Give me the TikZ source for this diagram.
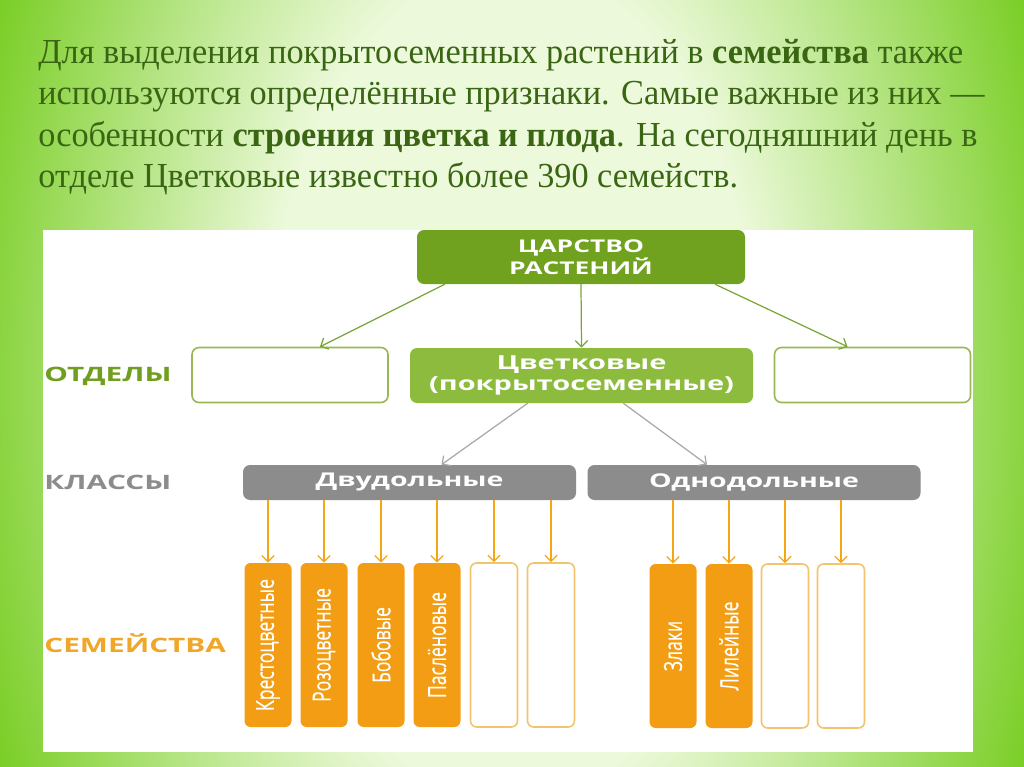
\documentclass[tikz,border=0pt]{standalone}
\usepackage{graphicx}
\usepackage{fontspec}
\setmainfont{Liberation Serif}
\newfontfamily\diagfont{Open Sans}
\newfontfamily\famfont[FakeBold=0.4]{Open Sans}
\usetikzlibrary{arrows.meta,calc}

\definecolor{bgedge}{RGB}{122,206,38}
\definecolor{bgmid}{RGB}{236,249,218}
\definecolor{paratext}{RGB}{58,102,20}
\definecolor{kinggreen}{RGB}{112,162,32}
\definecolor{tsvetgreen}{RGB}{141,187,62}
\definecolor{divline}{RGB}{152,184,84}
\definecolor{greenarrow}{RGB}{122,166,52}
\definecolor{classgray}{RGB}{140,140,140}
\definecolor{grayarrow}{RGB}{168,168,168}
\definecolor{famorange}{RGB}{243,157,20}
\definecolor{famline}{RGB}{242,196,110}
\definecolor{otdgreen}{RGB}{112,158,32}
\definecolor{semorange}{RGB}{240,166,40}

\pgfdeclareradialshading{slidebg}{\pgfpoint{0bp}{0bp}}{color(0bp)=(bgmid); color(11bp)=(bgmid); color(25bp)=(bgedge); color(50bp)=(bgedge)}

\newcommand\pxu{0.02cm}
\newcommand\wide[2][1.5]{\scalebox{#1}[1]{#2}}
\newcommand\tall[2][1.42]{\scalebox{1}[#1]{#2}}
\newcommand\narrow[1]{\scalebox{0.975}[1]{#1}}

\begin{document}
\begin{tikzpicture}[x=0.02cm, y=-0.02cm, line join=round, line cap=round,
  >={Straight Barb[length=3.5pt,width=7pt]},
  para/.style={anchor=base west, inner sep=0pt, text=paratext, font=\fontsize{20}{24}\selectfont},
  lbl/.style={anchor=west, inner sep=0pt, font=\diagfont\bfseries\fontsize{11.3}{13}\selectfont},
  box/.style={rounded corners=4pt, inner sep=0pt, align=center, text=white},
  kingdom/.style={box, fill=kinggreen, minimum width=328*\pxu, minimum height=54*\pxu, font=\diagfont\bfseries\fontsize{10}{11.5}\selectfont},
  division/.style={box, draw=divline, line width=0.9pt, fill=white, minimum width=196*\pxu, minimum height=55*\pxu},
  tsvet/.style={box, fill=tsvetgreen, minimum width=343*\pxu, minimum height=55*\pxu, font=\diagfont\bfseries\fontsize{11}{11.5}\selectfont},
  klass/.style={box, fill=classgray, minimum width=333*\pxu, minimum height=35*\pxu, font=\diagfont\bfseries\fontsize{10.8}{12}\selectfont},
  fam/.style={box, rounded corners=3.5pt, fill=famorange, minimum width=47*\pxu, minimum height=164*\pxu, font=\famfont\fontsize{10}{11}\selectfont},
  famempty/.style={fam, fill=white, draw=famline, line width=0.9pt},
  garrow/.style={->, greenarrow, line width=0.7pt},
  grarrow/.style={->, grayarrow, line width=0.7pt},
  oarrow/.style={->, famorange!90!yellow, line width=0.7pt}]

% slide background
\useasboundingbox (0,0) rectangle (1024,767);
\clip (0,0) rectangle (1024,767);
\shade[shading=slidebg] (512,383) ellipse (560 and 950);
\fill[white] (43,230) rectangle (973,752);

% text above the scheme
\node[para] (l1) at (38,64) {\narrow{Для выделения покрытосеменных растений в \textbf{семейства} также}};
\node[para] (l2) at (38,105) {\narrow{используются определённые признаки. Самые важные из них —}};
\node[para] (l3) at (38,146) {\narrow{особенности \textbf{строения цветка и плода}. На сегодняшний день в}};
\node[para] (l4) at (38,187) {\narrow{отделе Цветковые известно более 390 семейств.}};

% row labels
\node[lbl, text=otdgreen] (lotd) at (44,376) {\wide{ОТДЕЛЫ}};
\node[lbl, text=classgray] (lkl) at (44,482) {\wide{КЛАССЫ}};
\node[lbl, text=semorange] (lsem) at (44,643) {\wide{СЕМЕЙСТВА}};

% kingdom and divisions
\node[kingdom] (king) at (581,257) {\wide{ЦАРСТВО}\\\wide{РАСТЕНИЙ}};
\node[division] (otdl) at (290,375) {};
\node[tsvet] (tsv) at (581.5,375.5) {\wide{Цветковые}\\\wide{(покрытосеменные)}};
\node[division] (otdr) at (872.5,375) {};

% classes
\node[klass] (dvu) at (409.5,482.5) {\wide{Двудольные}};
\node[klass] (odno) at (754,482.5) {\wide{Однодольные}};

% families
\foreach \x/\t [count=\i] in {268/Крестоцветные,324/Розоцветные,381/Бобовые,437/Паслёновые}
  \node[fam] (d\i) at (\x,645) {\rotatebox{90}{\tall{\t}}};
\foreach \x [count=\i from 5] in {494,551}
  \node[famempty] (d\i) at (\x,645) {};
\foreach \x/\t [count=\i] in {673/Злаки,729/Лилейные}
  \node[fam] (m\i) at (\x,646) {\rotatebox{90}{\tall{\t}}};
\foreach \x [count=\i from 3] in {785,841}
  \node[famempty] (m\i) at (\x,646) {};

% connectors
\draw[garrow] ($(king.south west)+(28,0)$) -- ($(otdl.north)+(30,0)$);
\draw[garrow] (king.south) -- (tsv.north);
\draw[garrow] ($(king.south east)+(-30,0)$) -- ($(otdr.north)+(-25,0)$);
\draw[grarrow] ($(tsv.south)+(-54,0)$) -- ($(dvu.north)+(32,0)$);
\draw[grarrow] ($(tsv.south)+(42,0)$) -- ($(odno.north)+(-47,0)$);
\foreach \i in {1,...,6} \draw[oarrow] (dvu.south -| d\i.north) -- (d\i.north);
\foreach \i in {1,...,4} \draw[oarrow] (odno.south -| m\i.north) -- (m\i.north);
\end{tikzpicture}
\end{document}
